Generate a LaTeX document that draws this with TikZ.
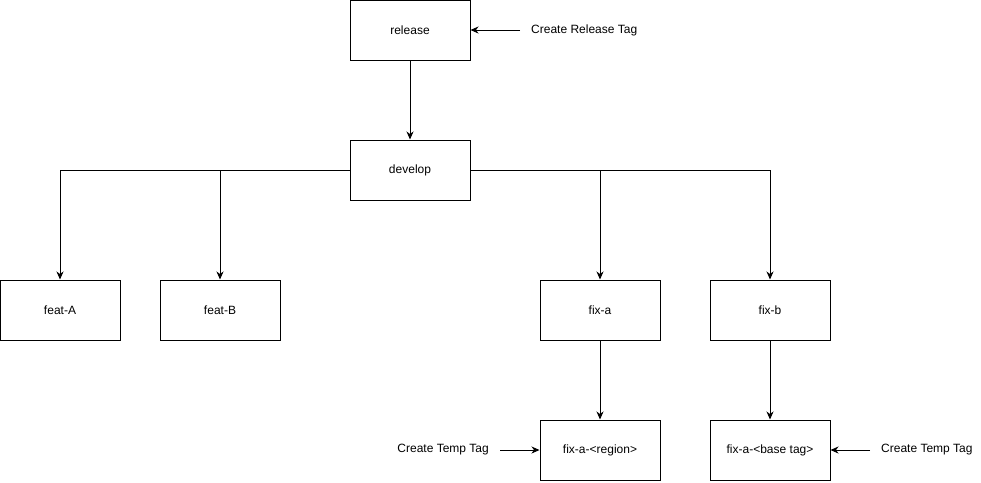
\documentclass[tikz,border=0pt]{standalone}
\usepackage{fontspec}
\setmainfont{Liberation Sans}
\usetikzlibrary{arrows.meta}
\begin{document}
\begin{tikzpicture}[x=1pt,y=-1pt,
  box/.style={draw,line width=1pt,minimum width=120pt,minimum height=60pt,inner sep=0pt,font=\fontsize{12}{14}\selectfont},
  lbl/.style={inner ysep=0pt,inner xsep=11pt,font=\fontsize{12}{14}\selectfont},
  conn/.style={line width=1pt,-{Stealth[length=8pt,width=7pt,inset=2.5pt]}}]
\useasboundingbox (0,0) rectangle (981,482);
\node[box] (release) at (410,30) {release};
\node[box] (develop) at (410,170) {develop};
\node[box] (featA) at (60,310) {feat-A};
\node[box] (featB) at (220,310) {feat-B};
\node[box] (fixa) at (600,310) {fix-a};
\node[box] (fixb) at (770,310) {fix-b};
\node[box] (fixar) at (600,450) {fix-a-<region>};
\node[box] (fixab) at (770,450) {fix-a-<base tag>};
\node[lbl,anchor=west] (relTag) at (520,30) {Create Release Tag};
\node[lbl,anchor=east] (tmpL) at (500,450) {Create Temp Tag};
\node[lbl,anchor=west] (tmpR) at (870,450) {Create Temp Tag};
\draw[conn] (release) -- (develop);
\draw[conn] (develop.west) -| (featA.north);
\draw[conn] (develop.west) -| (featB.north);
\draw[conn] (develop.east) -| (fixa.north);
\draw[conn] (develop.east) -| (fixb.north);
\draw[conn] (fixa) -- (fixar);
\draw[conn] (fixb) -- (fixab);
\draw[conn] (relTag.west) -- (release.east);
\draw[conn] (tmpL.east) -- (fixar.west);
\draw[conn] (tmpR.west) -- (fixab.east);
\end{tikzpicture}
\end{document}
